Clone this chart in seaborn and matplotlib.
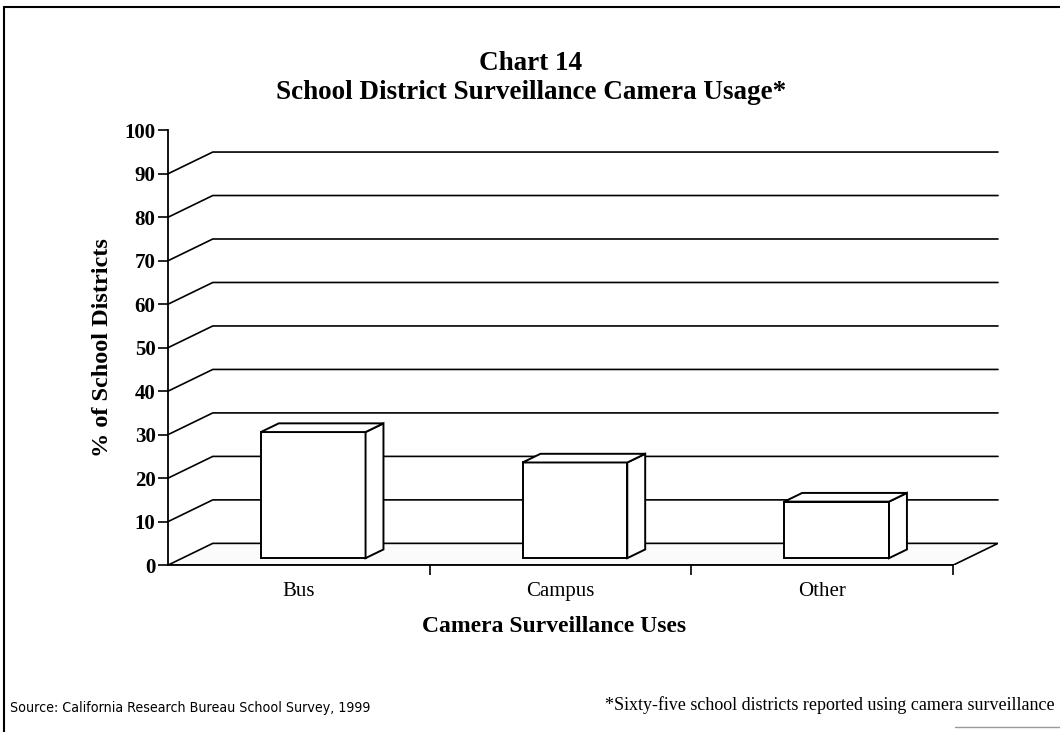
import matplotlib
matplotlib.use('Agg')
import matplotlib.pyplot as plt
import seaborn as sns
from matplotlib import font_manager
from matplotlib.patches import Polygon
from matplotlib.lines import Line2D

# chart data
uses = ['Bus', 'Campus', 'Other']
pct = [29, 22, 13]
y_ticks = [0, 10, 20, 30, 40, 50, 60, 70, 80, 90, 100]

sns.set_theme(style='white')
plt.rcParams['font.family'] = ['Liberation Serif', 'DejaVu Serif']
plt.rcParams['text.color'] = 'black'
plt.rcParams['axes.labelcolor'] = 'black'

fig = plt.figure(figsize=(10.6, 7.32), dpi=100)
ax = fig.add_axes([0.1585, 0.228, 0.783, 0.594])
ax.patch.set_alpha(0)

# depth of the fake 3d box (in data units) and where bars sit in it
DX, DY = 0.171, 5.0
F0, F1 = 0.32, 0.72

sns.barplot(x=uses, y=pct, width=0.4, color='white', saturation=1,
            edgecolor='black', linewidth=1.4, ax=ax, zorder=3)

bars = list(ax.patches)
ddx, ddy = (F1 - F0) * DX, (F1 - F0) * DY
for p in bars:
    x0 = p.get_x() + F0 * DX
    y0 = F0 * DY
    w, h = p.get_width(), p.get_height()
    p.set_x(x0)
    p.set_y(y0)
    top = Polygon([(x0, y0 + h), (x0 + w, y0 + h), (x0 + w + ddx, y0 + h + ddy),
                   (x0 + ddx, y0 + h + ddy)], closed=True, facecolor='white',
                  edgecolor='black', lw=1.4, zorder=3)
    side = Polygon([(x0 + w, y0), (x0 + w + ddx, y0 + ddy), (x0 + w + ddx, y0 + h + ddy),
                    (x0 + w, y0 + h)], closed=True, facecolor='white',
                   edgecolor='black', lw=1.4, zorder=3)
    ax.add_patch(side)
    ax.add_patch(top)

# floor
floor = Polygon([(-0.5, 0), (2.5, 0), (2.5 + DX, DY), (-0.5 + DX, DY)], closed=True,
                facecolor='#fbfbfb', edgecolor='black', lw=1.2, zorder=0.5)
ax.add_patch(floor)

# gridlines on side and back walls
for v in y_ticks[1:-1]:
    ax.plot([-0.5, -0.5 + DX, 2.5 + DX], [v, v + DY, v + DY], color='black',
            lw=1.2, zorder=1, clip_on=False)

ax.set_xlim(-0.5, 2.5 + DX)
ax.set_ylim(0, 100)
sns.despine(ax=ax)
ax.spines['bottom'].set_bounds(-0.5, 2.5)
for s in ['left', 'bottom']:
    ax.spines[s].set_color('black')
    ax.spines[s].set_linewidth(1.3)
    ax.spines[s].set_zorder(4)

ax.set_xticks([0, 1, 2])
ax.set_xticklabels(uses, fontsize=15)
ax.set_xticks([0.5, 1.5, 2.5], minor=True)
ax.tick_params(axis='x', which='major', length=0, pad=12, labelcolor='black')
ax.tick_params(axis='x', which='minor', bottom=True, length=7, width=1.2, color='black')

ax.set_yticks(y_ticks)
ax.set_yticklabels([str(v) for v in y_ticks], fontsize=15, fontweight='bold')
ax.tick_params(axis='y', left=True, length=7, width=1.2, color='black', pad=2,
               labelcolor='black')

ax.set_xlabel('Camera Surveillance Uses', fontsize=17, fontweight='bold')
ax.xaxis.set_label_coords(0.4655, -0.117)
ax.set_ylabel('% of School Districts', fontsize=17.5, fontweight='bold', labelpad=8)

fig.text(0.501, 1 - 70 / 732, 'Chart 14', ha='center', va='baseline',
         fontsize=19.5, fontweight='bold')
fig.text(0.501, 1 - 99 / 732, 'School District Surveillance Camera Usage*',
         ha='center', va='baseline', fontsize=19.5, fontweight='bold')

# narrow sans font for the source line, if one is installed
narrow = None
for f in font_manager.fontManager.ttflist:
    fn = f.fname.lower()
    if ('narrow' in fn or 'condensed' in fn) and 'bold' not in fn and 'oblique' not in fn \
            and 'italic' not in fn and 'serif' not in fn and 'mono' not in fn:
        narrow = f.fname
        break
if narrow:
    src_font = font_manager.FontProperties(fname=narrow, size=10.2)
else:
    src_font = font_manager.FontProperties(family='DejaVu Sans', size=8.5)

fig.text(10 / 1060, 1 - 712 / 732, 'Source: California Research Bureau School Survey, 1999',
         ha='left', va='baseline', fontproperties=src_font)
fig.text(1055 / 1060, 1 - 710 / 732,
         '*Sixty-five school districts reported using camera surveillance',
         ha='right', va='baseline', fontsize=13)

# page frame
fig.add_artist(Line2D([4 / 1060, 4 / 1060], [0, 1 - 7 / 732], color='black', lw=1.5))
fig.add_artist(Line2D([4 / 1060, 1], [1 - 7 / 732, 1 - 7 / 732], color='black', lw=1.5))
fig.add_artist(Line2D([955 / 1060, 1], [1 - 727 / 732, 1 - 727 / 732], color='#999999', lw=1))

fig.savefig('out.png', dpi=100)
